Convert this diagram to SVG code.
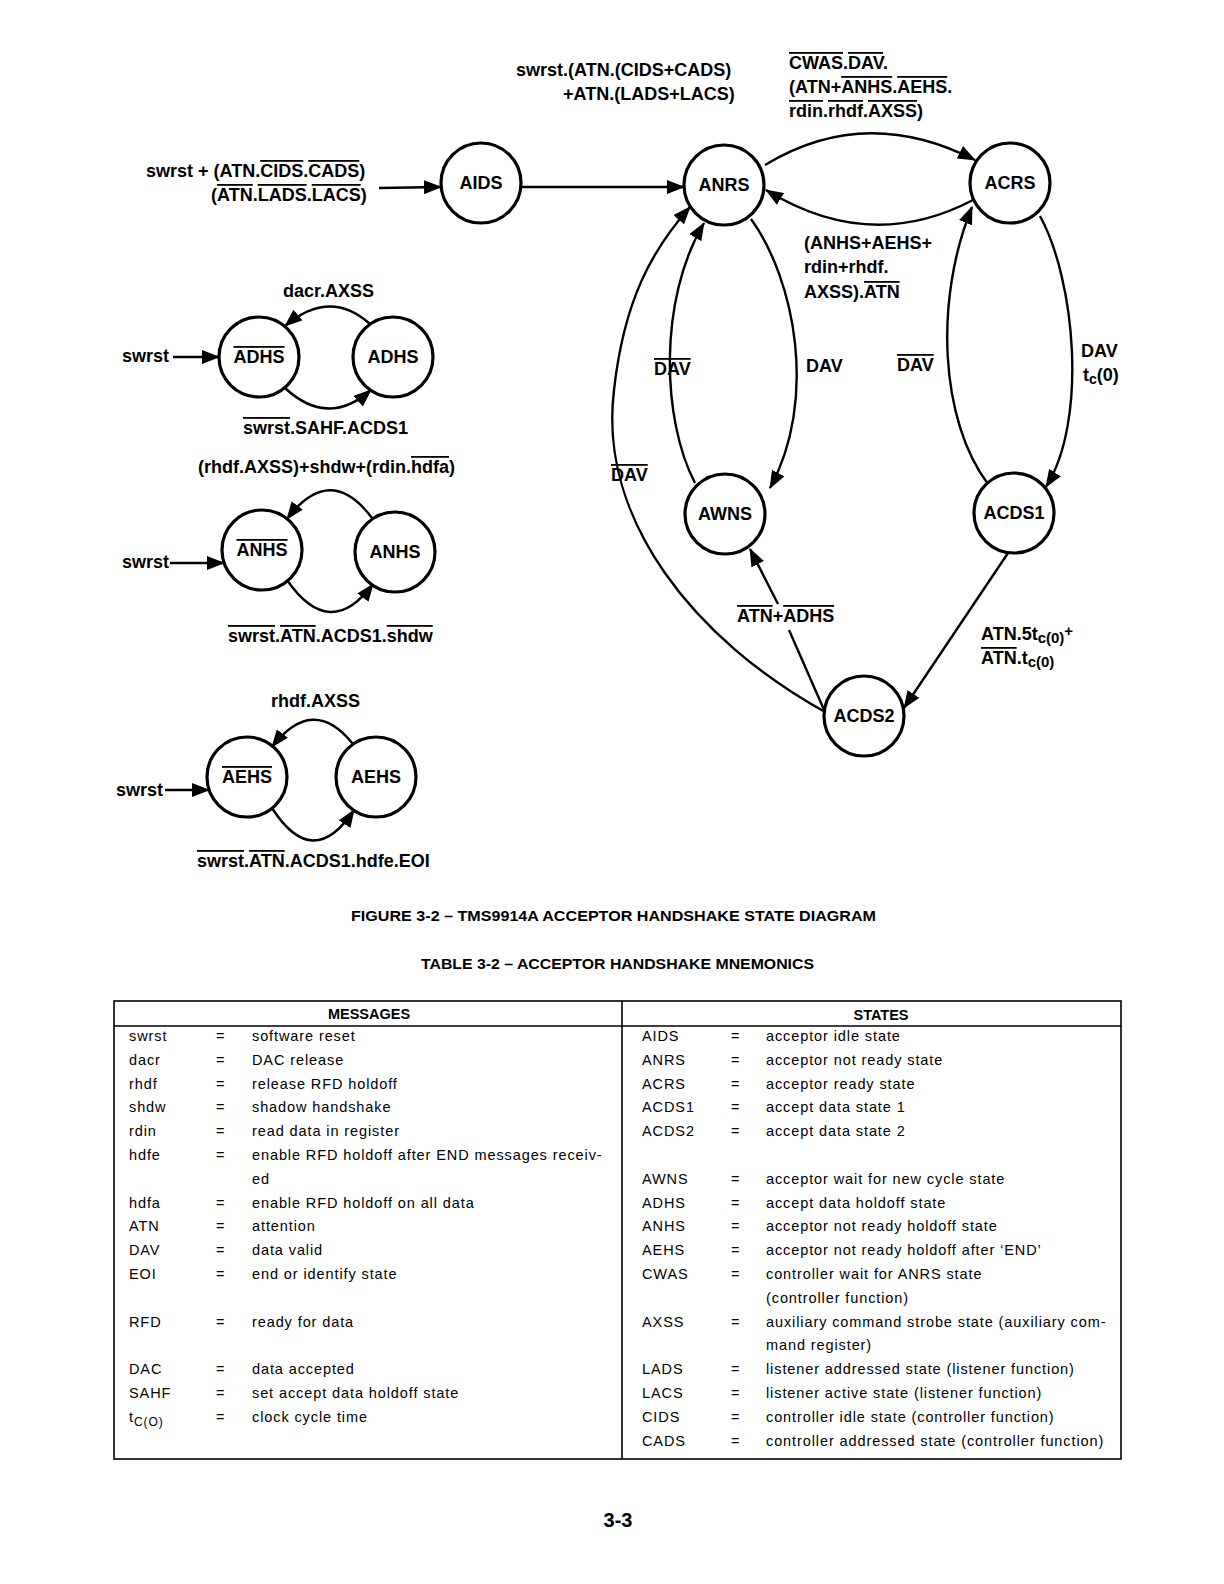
<svg xmlns="http://www.w3.org/2000/svg" width="1224" height="1584" viewBox="0 0 1224 1584">
<defs>
<marker id="ah" markerWidth="18" markerHeight="14" refX="17" refY="7" orient="auto" markerUnits="userSpaceOnUse"><path d="M0,0 L18,7 L0,14 z" fill="#000"/></marker>
<style>
.nd{fill:#fff;stroke:#000;stroke-width:3.2}
.nt{font-family:"Liberation Sans",Arial,sans-serif;font-weight:bold;font-size:18px;text-anchor:middle;fill:#000}
.lb{font-family:"Liberation Sans",Arial,sans-serif;font-weight:bold;font-size:18px;fill:#000}
.ov{text-decoration:overline}
.cn{fill:none;stroke:#000;stroke-width:2.4}
.ar{fill:none;stroke:#000;stroke-width:2.4;marker-end:url(#ah)}
.tb{font-family:"Liberation Sans",Arial,sans-serif;font-size:14.5px;letter-spacing:0.9px;fill:#000}
.th{font-family:"Liberation Sans",Arial,sans-serif;font-size:14.5px;font-weight:bold;text-anchor:middle;fill:#000}
.cap{font-family:"Liberation Sans",Arial,sans-serif;font-size:15px;font-weight:bold;fill:#000}
.tl{fill:none;stroke:#000;stroke-width:1.6}
</style>
</defs>
<rect width="1224" height="1584" fill="#fff"/>

<g id="connectors">
<!-- main diagram -->
<path class="ar" d="M379 188 L441 187"/>
<path class="ar" d="M521 187 L684 187"/>
<path class="ar" d="M765 165 Q865 104 975 160"/>
<path class="ar" d="M973 200 Q870 254 766 190"/>
<path class="ar" d="M695 483 C662 420 658 300 704 223"/>
<path class="ar" d="M751 219 C795 280 818 400 770 488"/>
<path class="ar" d="M825 712 C695 640 598 520 614 390 C624 300 652 250 690 207"/>
<path class="ar" d="M988 484 C940 420 934 300 972 207"/>
<path class="ar" d="M1040 216 C1075 280 1088 420 1046 487"/>
<path class="ar" d="M1008 553 L904 708"/>
<path class="cn" d="M825 712 L789 630"/>
<path class="ar" d="M778 604 L750 549"/>
<!-- ADHS -->
<path class="ar" d="M173 357 L219 357"/>
<path class="ar" d="M370 324 Q330 288 285 326"/>
<path class="ar" d="M285 388 Q328 428 371 390"/>
<!-- ANHS -->
<path class="ar" d="M170 563 L224 563"/>
<path class="ar" d="M372 518 Q330 462 287 519"/>
<path class="ar" d="M287 580 Q330 642 373 584"/>
<!-- AEHS -->
<path class="ar" d="M165 790 L209 790"/>
<path class="ar" d="M353 744 Q313 694 272 747"/>
<path class="ar" d="M272 808 Q313 872 354 810"/>
</g>

<g id="n-AIDS"><circle class="nd" cx="481" cy="183" r="40"/><text class="nt" x="481" y="189">AIDS</text></g>
<g id="n-ANRS"><circle class="nd" cx="724" cy="185" r="40"/><text class="nt" x="724" y="191">ANRS</text></g>
<g id="n-ACRS"><circle class="nd" cx="1010" cy="183" r="40"/><text class="nt" x="1010" y="189">ACRS</text></g>
<g id="n-AWNS"><circle class="nd" cx="725" cy="514" r="40"/><text class="nt" x="725" y="520">AWNS</text></g>
<g id="n-ACDS1"><circle class="nd" cx="1014" cy="513" r="40"/><text class="nt" x="1014" y="519">ACDS1</text></g>
<g id="n-ACDS2"><circle class="nd" cx="864" cy="716" r="40"/><text class="nt" x="864" y="722">ACDS2</text></g>
<g id="n-ADHSbar"><circle class="nd" cx="259" cy="357" r="40"/><text class="nt" x="259" y="363"><tspan class="ov">ADHS</tspan></text></g>
<g id="n-ADHS"><circle class="nd" cx="393" cy="357" r="40"/><text class="nt" x="393" y="363">ADHS</text></g>
<g id="n-ANHSbar"><circle class="nd" cx="262" cy="550" r="40"/><text class="nt" x="262" y="556"><tspan class="ov">ANHS</tspan></text></g>
<g id="n-ANHS"><circle class="nd" cx="395" cy="552" r="40"/><text class="nt" x="395" y="558">ANHS</text></g>
<g id="n-AEHSbar"><circle class="nd" cx="247" cy="777" r="40"/><text class="nt" x="247" y="783"><tspan class="ov">AEHS</tspan></text></g>
<g id="n-AEHS"><circle class="nd" cx="376" cy="777" r="40"/><text class="nt" x="376" y="783">AEHS</text></g>

<g id="labels">
<text class="lb" x="516" y="76">swrst.(ATN.(CIDS+CADS)</text>
<text class="lb" x="563" y="100">+ATN.(LADS+LACS)</text>
<text class="lb" x="789" y="69"><tspan class="ov">CWAS</tspan>.<tspan class="ov">DAV</tspan>.</text>
<text class="lb" x="789" y="93">(ATN+<tspan class="ov">ANHS</tspan>.<tspan class="ov">AEHS</tspan>.</text>
<text class="lb" x="789" y="117"><tspan class="ov">rdin</tspan>.<tspan class="ov">rhdf</tspan>.<tspan class="ov">AXSS</tspan>)</text>
<text class="lb" x="146" y="177">swrst + (ATN.<tspan class="ov">CIDS</tspan>.<tspan class="ov">CADS</tspan>)</text>
<text class="lb" x="211" y="201">(<tspan class="ov">ATN</tspan>.<tspan class="ov">LADS</tspan>.<tspan class="ov">LACS</tspan>)</text>
<text class="lb" x="804" y="249">(ANHS+AEHS+</text>
<text class="lb" x="804" y="273">rdin+rhdf.</text>
<text class="lb" x="804" y="298">AXSS).<tspan class="ov">ATN</tspan></text>
<text class="lb" x="806" y="372">DAV</text>
<text class="lb" x="654" y="375"><tspan class="ov">DAV</tspan></text>
<text class="lb" x="897" y="371"><tspan class="ov">DAV</tspan></text>
<text class="lb" x="1081" y="357">DAV</text>
<text class="lb" x="1083" y="381">t<tspan font-size="14" dy="3">c</tspan><tspan dy="-3">(0)</tspan></text>
<text class="lb" x="611" y="481"><tspan class="ov">DAV</tspan></text>
<text class="lb" x="737" y="622"><tspan class="ov">ATN</tspan>+<tspan class="ov">ADHS</tspan></text>
<text class="lb" x="981" y="640">ATN.5t<tspan font-size="15" dy="3">c(0)</tspan><tspan font-size="15" dy="-7">+</tspan></text>
<text class="lb" x="981" y="664"><tspan class="ov">ATN</tspan>.t<tspan font-size="15" dy="3">c(0)</tspan></text>
<text class="lb" x="283" y="297">dacr.AXSS</text>
<text class="lb" x="122" y="362">swrst</text>
<text class="lb" x="243" y="434"><tspan class="ov">swrst</tspan>.SAHF.ACDS1</text>
<text class="lb" x="198" y="473">(rhdf.AXSS)+shdw+(rdin.<tspan class="ov">hdfa</tspan>)</text>
<text class="lb" x="122" y="568">swrst</text>
<text class="lb" x="228" y="642"><tspan class="ov">swrst</tspan>.<tspan class="ov">ATN</tspan>.ACDS1.<tspan class="ov">shdw</tspan></text>
<text class="lb" x="271" y="707">rhdf.AXSS</text>
<text class="lb" x="116" y="796">swrst</text>
<text class="lb" x="197" y="867"><tspan class="ov">swrst</tspan>.<tspan class="ov">ATN</tspan>.ACDS1.hdfe.EOI</text>
</g>

<g id="captions">
<text class="cap" x="351" y="921" textLength="525" lengthAdjust="spacingAndGlyphs">FIGURE 3-2 – TMS9914A ACCEPTOR HANDSHAKE STATE DIAGRAM</text>
<text class="cap" x="421" y="969" textLength="393" lengthAdjust="spacingAndGlyphs">TABLE 3-2 – ACCEPTOR HANDSHAKE MNEMONICS</text>
<text x="618" y="1527" font-family="Liberation Sans, Arial, sans-serif" font-weight="bold" font-size="20" text-anchor="middle">3-3</text>
</g>

<g id="table">
<rect class="tl" x="114" y="1001" width="1007" height="458"/>
<line class="tl" x1="114" y1="1026" x2="1121" y2="1026"/>
<line class="tl" x1="622" y1="1001" x2="622" y2="1459"/>
<text class="th" x="369" y="1019">MESSAGES</text>
<text class="th" x="881" y="1020">STATES</text>
<g class="tb">
<text x="129" y="1041">swrst</text><text x="216" y="1041">=</text><text x="252" y="1041">software reset</text>
<text x="129" y="1065">dacr</text><text x="216" y="1065">=</text><text x="252" y="1065">DAC release</text>
<text x="129" y="1089">rhdf</text><text x="216" y="1089">=</text><text x="252" y="1089">release RFD holdoff</text>
<text x="129" y="1112">shdw</text><text x="216" y="1112">=</text><text x="252" y="1112">shadow handshake</text>
<text x="129" y="1136">rdin</text><text x="216" y="1136">=</text><text x="252" y="1136">read data in register</text>
<text x="129" y="1160">hdfe</text><text x="216" y="1160">=</text><text x="252" y="1160">enable RFD holdoff after END messages receiv-</text>
<text x="252" y="1184">ed</text>
<text x="129" y="1208">hdfa</text><text x="216" y="1208">=</text><text x="252" y="1208">enable RFD holdoff on all data</text>
<text x="129" y="1231">ATN</text><text x="216" y="1231">=</text><text x="252" y="1231">attention</text>
<text x="129" y="1255">DAV</text><text x="216" y="1255">=</text><text x="252" y="1255">data valid</text>
<text x="129" y="1279">EOI</text><text x="216" y="1279">=</text><text x="252" y="1279">end or identify state</text>
<text x="129" y="1327">RFD</text><text x="216" y="1327">=</text><text x="252" y="1327">ready for data</text>
<text x="129" y="1374">DAC</text><text x="216" y="1374">=</text><text x="252" y="1374">data accepted</text>
<text x="129" y="1398">SAHF</text><text x="216" y="1398">=</text><text x="252" y="1398">set accept data holdoff state</text>
<text x="129" y="1422">t<tspan font-size="12" dy="4">C(O)</tspan></text><text x="216" y="1422">=</text><text x="252" y="1422">clock cycle time</text>

<text x="642" y="1041">AIDS</text><text x="731" y="1041">=</text><text x="766" y="1041">acceptor idle state</text>
<text x="642" y="1065">ANRS</text><text x="731" y="1065">=</text><text x="766" y="1065">acceptor not ready state</text>
<text x="642" y="1089">ACRS</text><text x="731" y="1089">=</text><text x="766" y="1089">acceptor ready state</text>
<text x="642" y="1112">ACDS1</text><text x="731" y="1112">=</text><text x="766" y="1112">accept data state 1</text>
<text x="642" y="1136">ACDS2</text><text x="731" y="1136">=</text><text x="766" y="1136">accept data state 2</text>
<text x="642" y="1184">AWNS</text><text x="731" y="1184">=</text><text x="766" y="1184">acceptor wait for new cycle state</text>
<text x="642" y="1208">ADHS</text><text x="731" y="1208">=</text><text x="766" y="1208">accept data holdoff state</text>
<text x="642" y="1231">ANHS</text><text x="731" y="1231">=</text><text x="766" y="1231">acceptor not ready holdoff state</text>
<text x="642" y="1255">AEHS</text><text x="731" y="1255">=</text><text x="766" y="1255">acceptor not ready holdoff after ‘END’</text>
<text x="642" y="1279">CWAS</text><text x="731" y="1279">=</text><text x="766" y="1279">controller wait for ANRS state</text>
<text x="766" y="1303">(controller function)</text>
<text x="642" y="1327">AXSS</text><text x="731" y="1327">=</text><text x="766" y="1327">auxiliary command strobe state (auxiliary com-</text>
<text x="766" y="1350">mand register)</text>
<text x="642" y="1374">LADS</text><text x="731" y="1374">=</text><text x="766" y="1374">listener addressed state (listener function)</text>
<text x="642" y="1398">LACS</text><text x="731" y="1398">=</text><text x="766" y="1398">listener active state (listener function)</text>
<text x="642" y="1422">CIDS</text><text x="731" y="1422">=</text><text x="766" y="1422">controller idle state (controller function)</text>
<text x="642" y="1446">CADS</text><text x="731" y="1446">=</text><text x="766" y="1446">controller addressed state (controller function)</text>
</g>
</g>
</svg>
